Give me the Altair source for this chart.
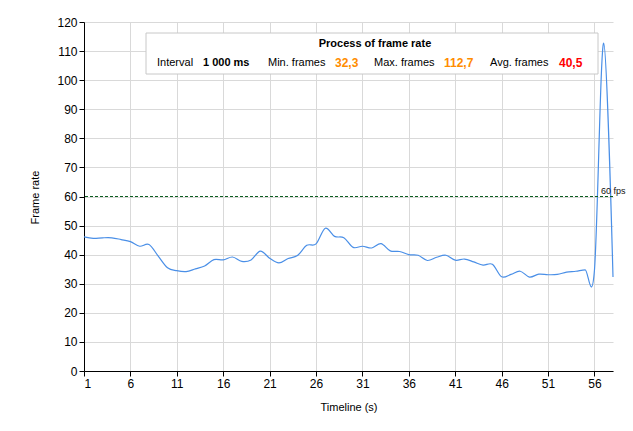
import altair as alt
import pandas as pd

seconds = list(range(1, 59))
frame_rate = [46.1, 45.6, 45.8, 45.8, 45.2, 44.5, 42.9, 43.5, 39.5, 35.5,
              34.5, 34.2, 35.1, 36.1, 38.3, 38.2, 39.2, 37.7, 38.2, 41.2,
              38.8, 37.2, 38.7, 39.7, 43.2, 43.7, 49.1, 46.3, 45.8, 42.5,
              42.9, 42.3, 43.8, 41.3, 41.1, 40.0, 39.8, 38.0, 39.1, 39.8,
              38.1, 38.5, 37.5, 36.4, 36.7, 32.4, 33.2, 34.3, 32.3, 33.3,
              33.1, 33.2, 34.0, 34.3, 34.8, 34.6, 112.7, 32.3]
x_ticks = [1, 6, 11, 16, 21, 26, 31, 36, 41, 46, 51, 56]
y_ticks = list(range(0, 121, 10))
target_fps = 60
target_label = "60 fps"

box_title = "Process of frame rate"
box_items = ["Interval", "1 000 ms", "Min. frames", "32,3", "Max. frames", "112,7", "Avg. frames", "40,5"]

FONT = "Liberation Sans"
df = pd.DataFrame({"t": seconds, "fps": frame_rate})

x_scale = alt.Scale(domain=[1, 58], nice=False, zero=False)
y_scale = alt.Scale(domain=[0, 120], nice=False)
y_axis = alt.Axis(values=y_ticks, title="Frame rate", titleX=-49, titleY=175,
                  titleBaseline="middle", labelFontSize=12, tickSize=5, labelPadding=2,
                  grid=True, labelOverlap=False, tickCount=13)

line = alt.Chart(df).mark_line(color="#4a8fe7", strokeWidth=1.2, interpolate="cardinal").encode(
    x=alt.X("t:Q", scale=x_scale,
            axis=alt.Axis(values=x_ticks, title="Timeline (s)", titleY=36, titleBaseline="middle",
                          labelFontSize=12, tickSize=5, labelPadding=2, grid=True,
                          labelOverlap=False)),
    y=alt.Y("fps:Q", scale=y_scale, axis=y_axis),
)

rule = alt.Chart(pd.DataFrame({"fps": [target_fps]})).mark_rule(
    color="#0b5d1e", strokeDash=[3, 2], strokeWidth=1
).encode(y=alt.Y("fps:Q", scale=y_scale, axis=y_axis))

rule_text = alt.Chart(pd.DataFrame({"fps": [target_fps], "label": [target_label]})).mark_text(
    align="left", baseline="bottom", fontSize=9, font=FONT, color="#111", dy=-1
).encode(y=alt.Y("fps:Q", scale=y_scale, axis=y_axis), x=alt.value(517), text="label:N")

box = alt.Chart(pd.DataFrame({"a": [0]})).mark_rect(
    fill="white", stroke="#c8c8c8", strokeWidth=1
).encode(x=alt.value(62), x2=alt.value(514), y=alt.value(11), y2=alt.value(52))

title_text = alt.Chart(pd.DataFrame({"label": [box_title]})).mark_text(
    align="center", baseline="middle", fontSize=11, fontWeight="bold", font=FONT, color="black"
).encode(x=alt.value(291), y=alt.value(22), text="label:N")

item_x = [73, 119, 184, 251, 290, 360, 406, 475]
item_color = ["black", "black", "black", "#ff8c00", "black", "#ff8c00", "black", "#ff0000"]
item_weight = ["normal", "bold", "normal", "bold", "normal", "bold", "normal", "bold"]
item_size = [11, 11, 11, 12, 11, 12, 11, 12]

items = []
for lab, xx, col, w, s in zip(box_items, item_x, item_color, item_weight, item_size):
    items.append(
        alt.Chart(pd.DataFrame({"label": [lab]})).mark_text(
            align="left", baseline="middle", fontSize=s, fontWeight=w, font=FONT, color=col
        ).encode(x=alt.value(xx), y=alt.value(41), text="label:N")
    )

chart = alt.layer(line, rule, rule_text, box, title_text, *items).properties(
    width=529, height=349,
    autosize=alt.AutoSizeParams(type="none"),
    padding={"left": 84, "top": 22, "right": 20, "bottom": 60},
    background="white",
).configure_view(stroke=None).configure_axis(
    domainColor="black", domainWidth=1, tickColor="black", tickWidth=1,
    gridColor="#d9d9d9", gridWidth=1, labelColor="black", titleColor="black",
    labelFont=FONT, titleFont=FONT, titleFontSize=11, titleFontWeight="normal",
)

chart.save("out.html", embed_options={"renderer": "svg", "actions": False})
